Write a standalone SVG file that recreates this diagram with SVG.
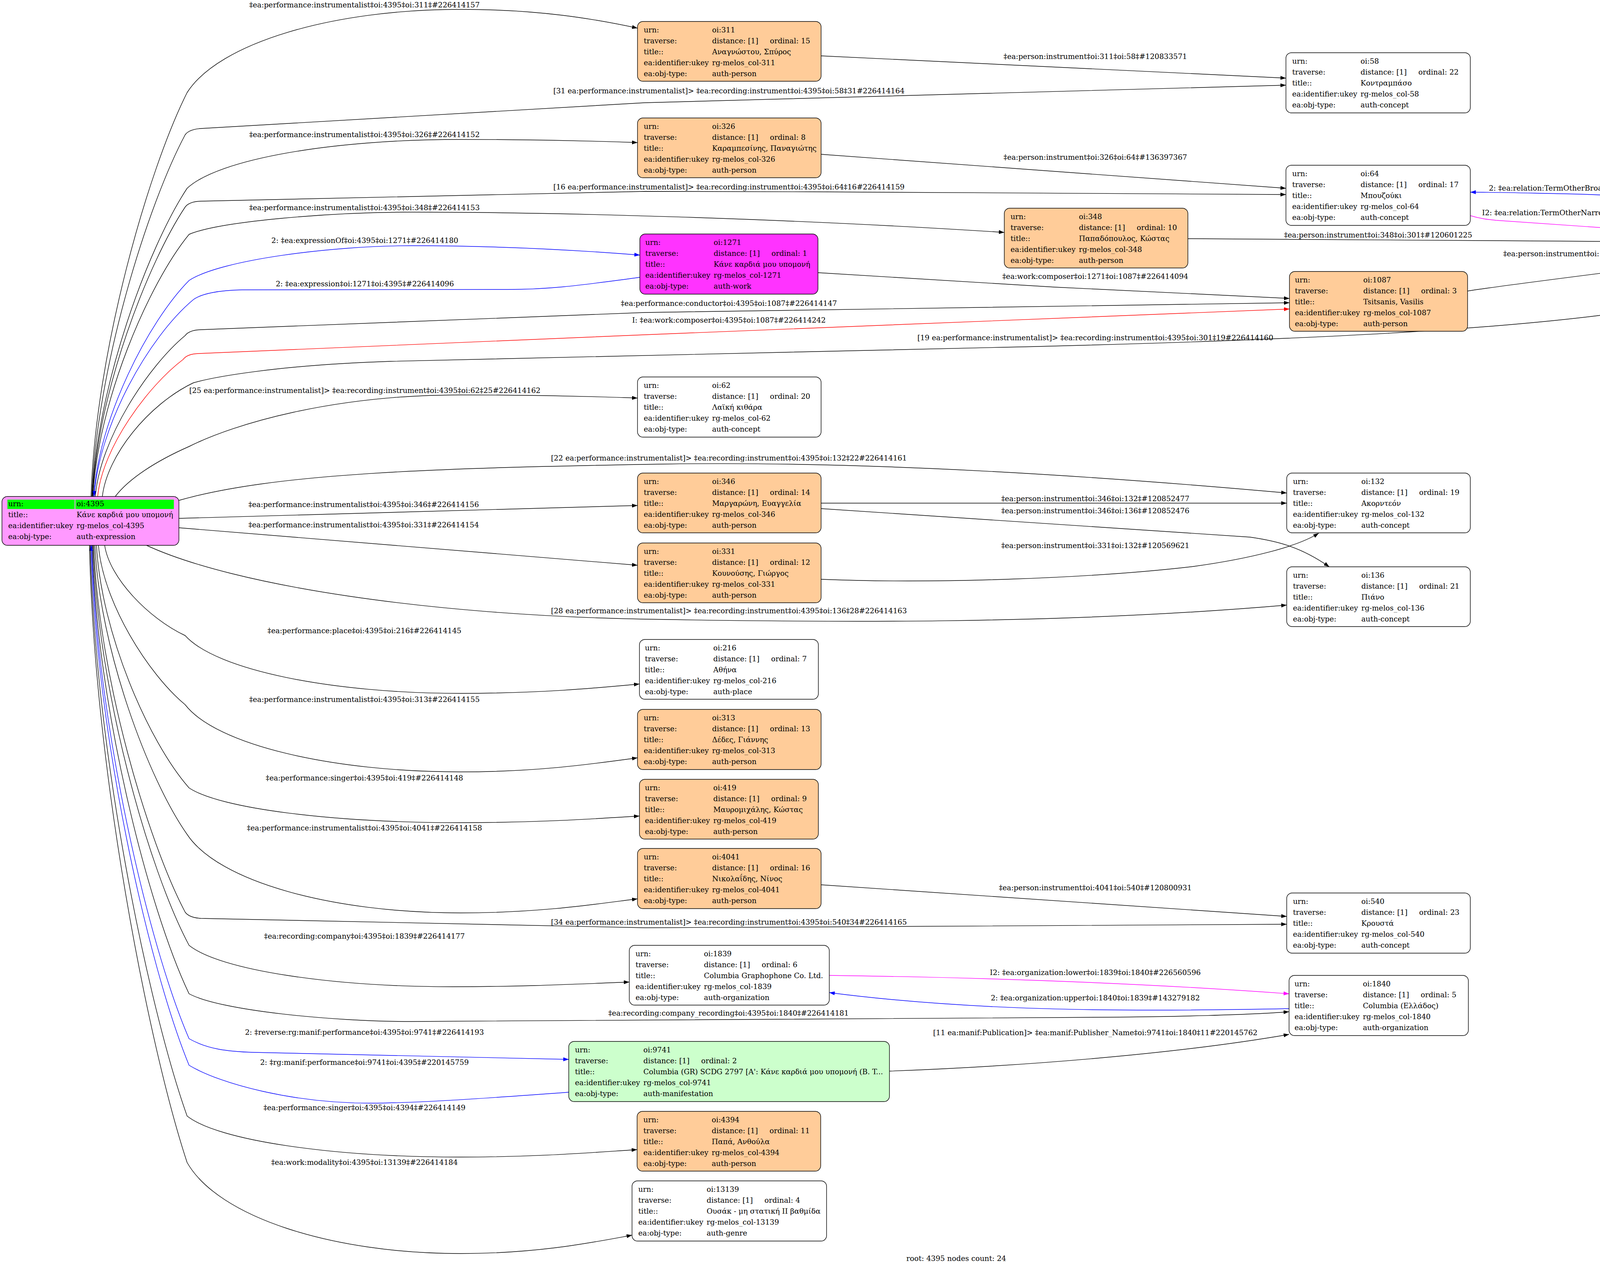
<svg xmlns="http://www.w3.org/2000/svg" width="4896" height="3246" viewBox="0 0 4896 3246">
<defs>
<style>
text{font-family:"DejaVu Serif","Liberation Serif",serif;font-size:18.67px;fill:#000}
.lbl{text-anchor:middle}
.node rect.b{stroke:#000;stroke-width:1.4}
.plain{fill:#fff}.person{fill:#ffcc99}.work{fill:#ff33ff}.manif{fill:#ccffcc}.root{fill:#ff99ff}
.hl{fill:#00ff00}
#edges path{fill:none;stroke-width:1.4}
.k{stroke:#000}.bl{stroke:#0000ff}.rd{stroke:#ff0000}.mg{stroke:#ff00ff}
path.k{marker-end:url(#ak)}
path.bl{marker-end:url(#ab)}path.rd{marker-end:url(#ar)}path.mg{marker-end:url(#am)}
</style>
<marker id="ak" viewBox="0 0 14 10" refX="14" refY="5" markerWidth="14" markerHeight="10" markerUnits="userSpaceOnUse" orient="auto"><path d="M0,0L14,5L0,10z" fill="#000"/></marker>
<marker id="ab" viewBox="0 0 14 10" refX="14" refY="5" markerWidth="14" markerHeight="10" markerUnits="userSpaceOnUse" orient="auto"><path d="M0,0L14,5L0,10z" fill="#0000ff"/></marker>
<marker id="ar" viewBox="0 0 14 10" refX="14" refY="5" markerWidth="14" markerHeight="10" markerUnits="userSpaceOnUse" orient="auto"><path d="M0,0L14,5L0,10z" fill="#ff0000"/></marker>
<marker id="am" viewBox="0 0 14 10" refX="14" refY="5" markerWidth="14" markerHeight="10" markerUnits="userSpaceOnUse" orient="auto"><path d="M0,0L14,5L0,10z" fill="#ff00ff"/></marker>
</defs>
<rect x="0" y="0" width="4896" height="3246" fill="#fff"/>

<g id="edges">
<g><path class="k" d="M233,1271 C245,899 380,434 479,237 C560,110 850,24 1179,24 C1380,24 1520,48 1632,72"/><text class="lbl" x="933" y="19">‡ea:performance:instrumentalist‡oi:4395‡oi:311‡#226414157</text></g>
<g><path class="k" d="M2102,143 L3292,200"/><text class="lbl" x="2804" y="151">‡ea:person:instrument‡oi:311‡oi:58‡#120833571</text></g>
<g><path class="k" d="M235,1271 C247,938 380,521 474,345 Q484,331 514,329 L1650,263 L3292,218"/><text class="lbl" x="1866" y="239">[31 ea:performance:instrumentalist]&gt; ‡ea:recording:instrument‡oi:4395‡oi:58‡31#226414164</text></g>
<g><path class="k" d="M236,1271 C248,987 380,632 479,482 C559,407 850,357 1179,357 C1380,357 1520,361 1632,365"/><text class="lbl" x="933" y="351">‡ea:performance:instrumentalist‡oi:4395‡oi:326‡#226414152</text></g>
<g><path class="k" d="M2102,395 L3292,482"/><text class="lbl" x="2804" y="409">‡ea:person:instrument‡oi:326‡oi:64‡#136397367</text></g>
<g><path class="k" d="M237,1271 C249,1004 380,671 474,530 Q484,516 514,515 L1650,490 L2080,491 L3292,498"/><text class="lbl" x="1866" y="485">[16 ea:performance:instrumentalist]&gt; ‡ea:recording:instrument‡oi:4395‡oi:64‡16#226414159</text></g>
<g><path class="bl" d="M4436,545 C4350,515 4200,500 4000,496 C3900,494 3830,492 3764,492"/><text class="lbl" x="4095" y="488">2: ‡ea:relation:TermOtherBroader‡oi:301‡oi:64‡#87346634</text></g>
<g><path class="mg" d="M3764,552 C3790,560 3810,562 3830,564 L4420,605"/><text class="lbl" x="4095" y="551">I2: ‡ea:relation:TermOtherNarrower‡oi:64‡oi:301‡#226517825</text></g>
<g><path class="k" d="M238,1271 C250,1029 380,727 484,600 C564,566 850,543 1053,543 C1400,543 2000,558 2571,595"/><text class="lbl" x="933" y="538">‡ea:performance:instrumentalist‡oi:4395‡oi:348‡#226414153</text></g>
<g><path class="k" d="M3041,611 L4420,620"/><text class="lbl" x="3528" y="608">‡ea:person:instrument‡oi:348‡oi:301‡#120601225</text></g>
<g><path class="bl" d="M240,1271 C252,1072 380,823 484,718 C564,665 850,629 1053,629 C1300,629 1500,642 1638,653"/><text class="lbl" x="934" y="622">2: ‡ea:expressionOf‡oi:4395‡oi:1271‡#226414180</text></g>
<g><path class="bl" d="M1638,710 C1500,728 1420,741 1300,741 L620,742 C560,743 515,752 495,767 C380,863 253,1090 241,1271"/><text class="lbl" x="934" y="733">2: ‡ea:expression‡oi:1271‡oi:4395‡#226414096</text></g>
<g><path class="k" d="M2094,698 C2300,712 2500,724 2700,735 C2950,748 3150,758 3301,764"/><text class="lbl" x="2804" y="714">‡ea:work:composer‡oi:1271‡oi:1087‡#226414094</text></g>
<g><path class="k" d="M3757,745 C3850,730 4100,700 4420,658"/><text class="lbl" x="4095" y="656">‡ea:person:instrument‡oi:1087‡oi:301‡#226063146</text></g>
<g><path class="k" d="M244,1271 C256,1123 380,937 474,859 Q484,845 514,844 L1650,800 L3301,775"/><text class="lbl" x="1866" y="783">‡ea:performance:conductor‡oi:4395‡oi:1087‡#226414147</text></g>
<g><path class="rd" d="M250,1271 C262,1145 380,987 469,920 Q479,906 509,905 L1650,857 L3301,791"/><text class="lbl" x="1866" y="826">I: ‡ea:work:composer‡oi:4395‡oi:1087‡#226414242</text></g>
<g><path class="k" d="M262,1271 C274,1166 380,1035 495,980 C540,967 700,935 1000,925 L2568,889 C3300,872 3900,845 4250,785 C4380,760 4460,735 4504,700"/><text class="lbl" x="2804" y="871">[19 ea:performance:instrumentalist]&gt; ‡ea:recording:instrument‡oi:4395‡oi:301‡19#226414160</text></g>
<g><path class="k" d="M295,1271 C330,1225 400,1180 484,1143 C600,1085 850,1011 1179,1011 C1380,1011 1520,1015 1632,1019"/><text class="lbl" x="934" y="1006">[25 ea:performance:instrumentalist]&gt; ‡ea:recording:instrument‡oi:4395‡oi:62‡25#226414162</text></g>
<g><path class="k" d="M458,1281 C700,1212 1100,1198 1700,1188 C2100,1182 2600,1200 3294,1262"/><text class="lbl" x="1866" y="1179">[22 ea:performance:instrumentalist]&gt; ‡ea:recording:instrument‡oi:4395‡oi:132‡22#226414161</text></g>
<g><path class="k" d="M458,1327 C900,1316 1300,1304 1632,1294"/><text class="lbl" x="931" y="1298">‡ea:performance:instrumentalist‡oi:4395‡oi:346‡#226414156</text></g>
<g><path class="k" d="M2102,1288 L3294,1288"/><text class="lbl" x="2804" y="1283">‡ea:person:instrument‡oi:346‡oi:132‡#120852477</text></g>
<g><path class="k" d="M2102,1302 L3200,1375 C3270,1385 3330,1400 3403,1451"/><text class="lbl" x="2804" y="1314">‡ea:person:instrument‡oi:346‡oi:136‡#120852476</text></g>
<g><path class="k" d="M458,1351 C900,1385 1300,1420 1632,1447"/><text class="lbl" x="931" y="1350">‡ea:performance:instrumentalist‡oi:4395‡oi:331‡#226414154</text></g>
<g><path class="k" d="M2102,1483 C2400,1495 2800,1480 3056,1450 C3200,1430 3320,1400 3376,1365"/><text class="lbl" x="2804" y="1403">‡ea:person:instrument‡oi:331‡oi:132‡#120569621</text></g>
<g><path class="k" d="M375,1396 C600,1500 1100,1575 1650,1585 C2100,1593 2700,1600 3294,1549"/><text class="lbl" x="1866" y="1570">[28 ea:performance:instrumentalist]&gt; ‡ea:recording:instrument‡oi:4395‡oi:136‡28#226414163</text></g>
<g><path class="k" d="M268,1396 C280,1479 380,1583 474,1627 C554,1716 850,1775 1179,1775 C1380,1775 1520,1762 1637,1751"/><text class="lbl" x="933" y="1621">‡ea:performance:place‡oi:4395‡oi:216‡#226414145</text></g>
<g><path class="k" d="M252,1396 C264,1543 380,1726 474,1804 C554,1907 850,1976 1179,1976 C1380,1976 1520,1955 1632,1940"/><text class="lbl" x="933" y="1797">‡ea:performance:instrumentalist‡oi:4395‡oi:313‡#226414155</text></g>
<g><path class="k" d="M247,1396 C259,1620 380,1899 484,2017 C564,2070 850,2106 1179,2106 C1380,2106 1520,2096 1637,2089"/><text class="lbl" x="933" y="1998">‡ea:performance:singer‡oi:4395‡oi:419‡#226414148</text></g>
<g><path class="k" d="M243,1396 C255,1662 380,1995 479,2136 C559,2257 850,2337 1179,2337 C1380,2337 1520,2315 1632,2301"/><text class="lbl" x="933" y="2126">‡ea:performance:instrumentalist‡oi:4395‡oi:4041‡#226414158</text></g>
<g><path class="k" d="M2102,2265 L3294,2346"/><text class="lbl" x="2804" y="2279">‡ea:person:instrument‡oi:4041‡oi:540‡#120800931</text></g>
<g><path class="k" d="M240,1396 C252,1734 380,2157 474,2335 Q484,2349 514,2351 L1650,2375 L2080,2373 L3294,2366"/><text class="lbl" x="1866" y="2367">[34 ea:performance:instrumentalist]&gt; ‡ea:recording:instrument‡oi:4395‡oi:540‡34#226414165</text></g>
<g><path class="k" d="M238,1396 C250,1765 380,2225 484,2420 C564,2484 850,2526 1158,2526 C1350,2526 1500,2518 1611,2514"/><text class="lbl" x="933" y="2403">‡ea:recording:company‡oi:4395‡oi:1839‡#226414177</text></g>
<g><path class="mg" d="M2123,2497 C2500,2502 2900,2515 3300,2544"/><text class="lbl" x="2804" y="2496">I2: ‡ea:organization:lower‡oi:1839‡oi:1840‡#226560596</text></g>
<g><path class="bl" d="M3300,2582 C2900,2590 2500,2590 2123,2541"/><text class="lbl" x="2804" y="2561">2: ‡ea:organization:upper‡oi:1840‡oi:1839‡#143279182</text></g>
<g><path class="k" d="M236,1396 C248,1809 380,2326 484,2544 C564,2587 850,2615 1053,2615 L2839,2604 C3000,2603 3200,2598 3300,2590"/><text class="lbl" x="1865" y="2600">‡ea:recording:company_recording‡oi:4395‡oi:1840‡#226414181</text></g>
<g><path class="bl" d="M235,1396 C247,1851 380,2419 484,2659 C530,2685 580,2692 650,2694 L1456,2712"/><text class="lbl" x="933" y="2649">2: ‡reverse:rg:manif:performance‡oi:4395‡oi:9741‡#226414193</text></g>
<g><path class="bl" d="M1456,2796 C1200,2815 1050,2824 947,2824 C750,2824 564,2775 484,2727 C380,2474 245,1875 233,1396"/><text class="lbl" x="933" y="2726">2: ‡rg:manif:performance‡oi:9741‡oi:4395‡#220145759</text></g>
<g><path class="k" d="M2277,2742 C2600,2730 3000,2700 3300,2648"/><text class="lbl" x="2804" y="2650">[11 ea:manif:Publication]&gt; ‡ea:manif:Publisher_Name‡oi:9741‡oi:1840‡11#220145762</text></g>
<g><path class="k" d="M231,1396 C243,1922 380,2579 479,2857 C559,2920 850,2962 1179,2962 C1380,2962 1520,2950 1631,2943"/><text class="lbl" x="933" y="2842">‡ea:performance:singer‡oi:4395‡oi:4394‡#226414149</text></g>
<g><path class="k" d="M229,1396 C241,1965 380,2676 479,2976 C559,3116 850,3209 1179,3209 C1380,3209 1520,3180 1618,3162"/><text class="lbl" x="933" y="2982">‡ea:work:modality‡oi:4395‡oi:13139‡#226414184</text></g>
</g>

<g id="n4395" class="node" transform="translate(5,1271)">
<rect class="b root" x="0" y="0" width="453" height="125" rx="14"/>
<rect class="hl" x="14" y="8" width="172" height="24"/><rect class="hl" x="188" y="8" width="252" height="24"/>
<text x="16" y="25">urn:</text><text x="191" y="25">oi:4395</text>
<text x="16" y="53">title::</text><text x="191" y="53">Κάνε καρδιά μου υπομονή</text>
<text x="16" y="81">ea:identifier:ukey</text><text x="191" y="81">rg-melos_col-4395</text>
<text x="16" y="109">ea:obj-type:</text><text x="191" y="109">auth-expression</text>
</g>

<g id="n311" class="node" transform="translate(1632,55)"><rect class="b person" width="470" height="153" rx="14"/>
<text x="16" y="27.5">urn:</text><text x="191" y="27.5">oi:311</text>
<text x="16" y="55.5">traverse:</text><text x="191" y="55.5">distance: [1]</text><text x="339" y="55.5">ordinal: 15</text>
<text x="16" y="83.5">title::</text><text x="191" y="83.5">Αναγνώστου, Σπύρος</text>
<text x="16" y="111.5">ea:identifier:ukey</text><text x="191" y="111.5">rg-melos_col-311</text>
<text x="16" y="139.5">ea:obj-type:</text><text x="191" y="139.5">auth-person</text></g>

<g id="n58" class="node" transform="translate(3292,135)"><rect class="b plain" width="472" height="154" rx="14"/>
<text x="16" y="27.5">urn:</text><text x="191" y="27.5">oi:58</text>
<text x="16" y="55.5">traverse:</text><text x="191" y="55.5">distance: [1]</text><text x="339" y="55.5">ordinal: 22</text>
<text x="16" y="83.5">title::</text><text x="191" y="83.5">Κοντραμπάσο</text>
<text x="16" y="111.5">ea:identifier:ukey</text><text x="191" y="111.5">rg-melos_col-58</text>
<text x="16" y="139.5">ea:obj-type:</text><text x="191" y="139.5">auth-concept</text></g>

<g id="n326" class="node" transform="translate(1632,302)"><rect class="b person" width="470" height="153" rx="14"/>
<text x="16" y="27.5">urn:</text><text x="191" y="27.5">oi:326</text>
<text x="16" y="55.5">traverse:</text><text x="191" y="55.5">distance: [1]</text><text x="339" y="55.5">ordinal: 8</text>
<text x="16" y="83.5">title::</text><text x="191" y="83.5">Καραμπεσίνης, Παναγιώτης</text>
<text x="16" y="111.5">ea:identifier:ukey</text><text x="191" y="111.5">rg-melos_col-326</text>
<text x="16" y="139.5">ea:obj-type:</text><text x="191" y="139.5">auth-person</text></g>

<g id="n64" class="node" transform="translate(3292,423)"><rect class="b plain" width="472" height="154" rx="14"/>
<text x="16" y="27.5">urn:</text><text x="191" y="27.5">oi:64</text>
<text x="16" y="55.5">traverse:</text><text x="191" y="55.5">distance: [1]</text><text x="339" y="55.5">ordinal: 17</text>
<text x="16" y="83.5">title::</text><text x="191" y="83.5">Μπουζούκι</text>
<text x="16" y="111.5">ea:identifier:ukey</text><text x="191" y="111.5">rg-melos_col-64</text>
<text x="16" y="139.5">ea:obj-type:</text><text x="191" y="139.5">auth-concept</text></g>

<g id="n301" class="node" transform="translate(4420,545)"><rect class="b plain" width="469" height="154" rx="14"/>
<text x="16" y="27.5">urn:</text><text x="191" y="27.5">oi:301</text>
<text x="16" y="55.5">traverse:</text><text x="191" y="55.5">distance: [1]</text><text x="339" y="55.5">ordinal: 18</text>
<text x="16" y="83.5">title::</text><text x="191" y="83.5">Τρίχορδο μπουζούκι</text>
<text x="16" y="111.5">ea:identifier:ukey</text><text x="191" y="111.5">rg-melos_col-301</text>
<text x="16" y="139.5">ea:obj-type:</text><text x="191" y="139.5">auth-concept</text></g>

<g id="n348" class="node" transform="translate(2571,533)"><rect class="b person" width="470" height="153" rx="14"/>
<text x="16" y="27.5">urn:</text><text x="191" y="27.5">oi:348</text>
<text x="16" y="55.5">traverse:</text><text x="191" y="55.5">distance: [1]</text><text x="339" y="55.5">ordinal: 10</text>
<text x="16" y="83.5">title::</text><text x="191" y="83.5">Παπαδόπουλος, Κώστας</text>
<text x="16" y="111.5">ea:identifier:ukey</text><text x="191" y="111.5">rg-melos_col-348</text>
<text x="16" y="139.5">ea:obj-type:</text><text x="191" y="139.5">auth-person</text></g>

<g id="n1271" class="node" transform="translate(1638,599)"><rect class="b work" width="456" height="154" rx="14"/>
<text x="14" y="27.5">urn:</text><text x="189" y="27.5">oi:1271</text>
<text x="14" y="55.5">traverse:</text><text x="189" y="55.5">distance: [1]</text><text x="337" y="55.5">ordinal: 1</text>
<text x="14" y="83.5">title::</text><text x="189" y="83.5">Κάνε καρδιά μου υπομονή</text>
<text x="14" y="111.5">ea:identifier:ukey</text><text x="189" y="111.5">rg-melos_col-1271</text>
<text x="14" y="139.5">ea:obj-type:</text><text x="189" y="139.5">auth-work</text></g>

<g id="n1087" class="node" transform="translate(3301,695)"><rect class="b person" width="456" height="153" rx="14"/>
<text x="14" y="27.5">urn:</text><text x="189" y="27.5">oi:1087</text>
<text x="14" y="55.5">traverse:</text><text x="189" y="55.5">distance: [1]</text><text x="337" y="55.5">ordinal: 3</text>
<text x="14" y="83.5">title::</text><text x="189" y="83.5">Tsitsanis, Vasilis</text>
<text x="14" y="111.5">ea:identifier:ukey</text><text x="189" y="111.5">rg-melos_col-1087</text>
<text x="14" y="139.5">ea:obj-type:</text><text x="189" y="139.5">auth-person</text></g>

<g id="n62" class="node" transform="translate(1632,965)"><rect class="b plain" width="470" height="154" rx="14"/>
<text x="16" y="27.5">urn:</text><text x="191" y="27.5">oi:62</text>
<text x="16" y="55.5">traverse:</text><text x="191" y="55.5">distance: [1]</text><text x="339" y="55.5">ordinal: 20</text>
<text x="16" y="83.5">title::</text><text x="191" y="83.5">Λαϊκή κιθάρα</text>
<text x="16" y="111.5">ea:identifier:ukey</text><text x="191" y="111.5">rg-melos_col-62</text>
<text x="16" y="139.5">ea:obj-type:</text><text x="191" y="139.5">auth-concept</text></g>

<g id="n132" class="node" transform="translate(3294,1211)"><rect class="b plain" width="470" height="153" rx="14"/>
<text x="16" y="27.5">urn:</text><text x="191" y="27.5">oi:132</text>
<text x="16" y="55.5">traverse:</text><text x="191" y="55.5">distance: [1]</text><text x="339" y="55.5">ordinal: 19</text>
<text x="16" y="83.5">title::</text><text x="191" y="83.5">Ακορντεόν</text>
<text x="16" y="111.5">ea:identifier:ukey</text><text x="191" y="111.5">rg-melos_col-132</text>
<text x="16" y="139.5">ea:obj-type:</text><text x="191" y="139.5">auth-concept</text></g>

<g id="n346" class="node" transform="translate(1632,1211)"><rect class="b person" width="470" height="153" rx="14"/>
<text x="16" y="27.5">urn:</text><text x="191" y="27.5">oi:346</text>
<text x="16" y="55.5">traverse:</text><text x="191" y="55.5">distance: [1]</text><text x="339" y="55.5">ordinal: 14</text>
<text x="16" y="83.5">title::</text><text x="191" y="83.5">Μαργαρώνη, Ευαγγελία</text>
<text x="16" y="111.5">ea:identifier:ukey</text><text x="191" y="111.5">rg-melos_col-346</text>
<text x="16" y="139.5">ea:obj-type:</text><text x="191" y="139.5">auth-person</text></g>

<g id="n331" class="node" transform="translate(1632,1390)"><rect class="b person" width="470" height="153" rx="14"/>
<text x="16" y="27.5">urn:</text><text x="191" y="27.5">oi:331</text>
<text x="16" y="55.5">traverse:</text><text x="191" y="55.5">distance: [1]</text><text x="339" y="55.5">ordinal: 12</text>
<text x="16" y="83.5">title::</text><text x="191" y="83.5">Κουνούσης, Γιώργος</text>
<text x="16" y="111.5">ea:identifier:ukey</text><text x="191" y="111.5">rg-melos_col-331</text>
<text x="16" y="139.5">ea:obj-type:</text><text x="191" y="139.5">auth-person</text></g>

<g id="n136" class="node" transform="translate(3294,1451)"><rect class="b plain" width="470" height="153" rx="14"/>
<text x="16" y="27.5">urn:</text><text x="191" y="27.5">oi:136</text>
<text x="16" y="55.5">traverse:</text><text x="191" y="55.5">distance: [1]</text><text x="339" y="55.5">ordinal: 21</text>
<text x="16" y="83.5">title::</text><text x="191" y="83.5">Πιάνο</text>
<text x="16" y="111.5">ea:identifier:ukey</text><text x="191" y="111.5">rg-melos_col-136</text>
<text x="16" y="139.5">ea:obj-type:</text><text x="191" y="139.5">auth-concept</text></g>

<g id="n216" class="node" transform="translate(1637,1637)"><rect class="b plain" width="458" height="153" rx="14"/>
<text x="14" y="27.5">urn:</text><text x="189" y="27.5">oi:216</text>
<text x="14" y="55.5">traverse:</text><text x="189" y="55.5">distance: [1]</text><text x="337" y="55.5">ordinal: 7</text>
<text x="14" y="83.5">title::</text><text x="189" y="83.5">Αθήνα</text>
<text x="14" y="111.5">ea:identifier:ukey</text><text x="189" y="111.5">rg-melos_col-216</text>
<text x="14" y="139.5">ea:obj-type:</text><text x="189" y="139.5">auth-place</text></g>

<g id="n313" class="node" transform="translate(1632,1816)"><rect class="b person" width="470" height="154" rx="14"/>
<text x="16" y="27.5">urn:</text><text x="191" y="27.5">oi:313</text>
<text x="16" y="55.5">traverse:</text><text x="191" y="55.5">distance: [1]</text><text x="339" y="55.5">ordinal: 13</text>
<text x="16" y="83.5">title::</text><text x="191" y="83.5">Δέδες, Γιάννης</text>
<text x="16" y="111.5">ea:identifier:ukey</text><text x="191" y="111.5">rg-melos_col-313</text>
<text x="16" y="139.5">ea:obj-type:</text><text x="191" y="139.5">auth-person</text></g>

<g id="n419" class="node" transform="translate(1637,1995)"><rect class="b person" width="458" height="153" rx="14"/>
<text x="14" y="27.5">urn:</text><text x="189" y="27.5">oi:419</text>
<text x="14" y="55.5">traverse:</text><text x="189" y="55.5">distance: [1]</text><text x="337" y="55.5">ordinal: 9</text>
<text x="14" y="83.5">title::</text><text x="189" y="83.5">Μαυρομιχάλης, Κώστας</text>
<text x="14" y="111.5">ea:identifier:ukey</text><text x="189" y="111.5">rg-melos_col-419</text>
<text x="14" y="139.5">ea:obj-type:</text><text x="189" y="139.5">auth-person</text></g>

<g id="n4041" class="node" transform="translate(1632,2172)"><rect class="b person" width="470" height="154" rx="14"/>
<text x="16" y="27.5">urn:</text><text x="191" y="27.5">oi:4041</text>
<text x="16" y="55.5">traverse:</text><text x="191" y="55.5">distance: [1]</text><text x="339" y="55.5">ordinal: 16</text>
<text x="16" y="83.5">title::</text><text x="191" y="83.5">Νικολαΐδης, Νίνος</text>
<text x="16" y="111.5">ea:identifier:ukey</text><text x="191" y="111.5">rg-melos_col-4041</text>
<text x="16" y="139.5">ea:obj-type:</text><text x="191" y="139.5">auth-person</text></g>

<g id="n540" class="node" transform="translate(3294,2286)"><rect class="b plain" width="470" height="154" rx="14"/>
<text x="16" y="27.5">urn:</text><text x="191" y="27.5">oi:540</text>
<text x="16" y="55.5">traverse:</text><text x="191" y="55.5">distance: [1]</text><text x="339" y="55.5">ordinal: 23</text>
<text x="16" y="83.5">title::</text><text x="191" y="83.5">Κρουστά</text>
<text x="16" y="111.5">ea:identifier:ukey</text><text x="191" y="111.5">rg-melos_col-540</text>
<text x="16" y="139.5">ea:obj-type:</text><text x="191" y="139.5">auth-concept</text></g>

<g id="n1839" class="node" transform="translate(1611,2420)"><rect class="b plain" width="512" height="153" rx="14"/>
<text x="16" y="27.5">urn:</text><text x="191" y="27.5">oi:1839</text>
<text x="16" y="55.5">traverse:</text><text x="191" y="55.5">distance: [1]</text><text x="339" y="55.5">ordinal: 6</text>
<text x="16" y="83.5">title::</text><text x="191" y="83.5">Columbia Graphophone Co. Ltd.</text>
<text x="16" y="111.5">ea:identifier:ukey</text><text x="191" y="111.5">rg-melos_col-1839</text>
<text x="16" y="139.5">ea:obj-type:</text><text x="191" y="139.5">auth-organization</text></g>

<g id="n1840" class="node" transform="translate(3300,2497)"><rect class="b plain" width="459" height="154" rx="14"/>
<text x="14" y="27.5">urn:</text><text x="189" y="27.5">oi:1840</text>
<text x="14" y="55.5">traverse:</text><text x="189" y="55.5">distance: [1]</text><text x="337" y="55.5">ordinal: 5</text>
<text x="14" y="83.5">title::</text><text x="189" y="83.5">Columbia (Ελλάδος)</text>
<text x="14" y="111.5">ea:identifier:ukey</text><text x="189" y="111.5">rg-melos_col-1840</text>
<text x="14" y="139.5">ea:obj-type:</text><text x="189" y="139.5">auth-organization</text></g>

<g id="n9741" class="node" transform="translate(1456,2666)"><rect class="b manif" width="821" height="154" rx="14"/>
<text x="16" y="27.5">urn:</text><text x="191" y="27.5">oi:9741</text>
<text x="16" y="55.5">traverse:</text><text x="191" y="55.5">distance: [1]</text><text x="339" y="55.5">ordinal: 2</text>
<text x="16" y="83.5">title::</text><text x="191" y="83.5">Columbia (GR) SCDG 2797 [A': Κάνε καρδιά μου υπομονή (B. T...</text>
<text x="16" y="111.5">ea:identifier:ukey</text><text x="191" y="111.5">rg-melos_col-9741</text>
<text x="16" y="139.5">ea:obj-type:</text><text x="191" y="139.5">auth-manifestation</text></g>

<g id="n4394" class="node" transform="translate(1631,2845)"><rect class="b person" width="470" height="153" rx="14"/>
<text x="16" y="27.5">urn:</text><text x="191" y="27.5">oi:4394</text>
<text x="16" y="55.5">traverse:</text><text x="191" y="55.5">distance: [1]</text><text x="339" y="55.5">ordinal: 11</text>
<text x="16" y="83.5">title::</text><text x="191" y="83.5">Παπά, Ανθούλα</text>
<text x="16" y="111.5">ea:identifier:ukey</text><text x="191" y="111.5">rg-melos_col-4394</text>
<text x="16" y="139.5">ea:obj-type:</text><text x="191" y="139.5">auth-person</text></g>

<g id="n13139" class="node" transform="translate(1618,3023)"><rect class="b plain" width="498" height="154" rx="14"/>
<text x="16" y="27.5">urn:</text><text x="191" y="27.5">oi:13139</text>
<text x="16" y="55.5">traverse:</text><text x="191" y="55.5">distance: [1]</text><text x="339" y="55.5">ordinal: 4</text>
<text x="16" y="83.5">title::</text><text x="191" y="83.5">Ουσάκ - μη στατική II βαθμίδα</text>
<text x="16" y="111.5">ea:identifier:ukey</text><text x="191" y="111.5">rg-melos_col-13139</text>
<text x="16" y="139.5">ea:obj-type:</text><text x="191" y="139.5">auth-genre</text></g>

<text class="lbl" x="2448" y="3228">root: 4395 nodes count: 24</text>
</svg>
